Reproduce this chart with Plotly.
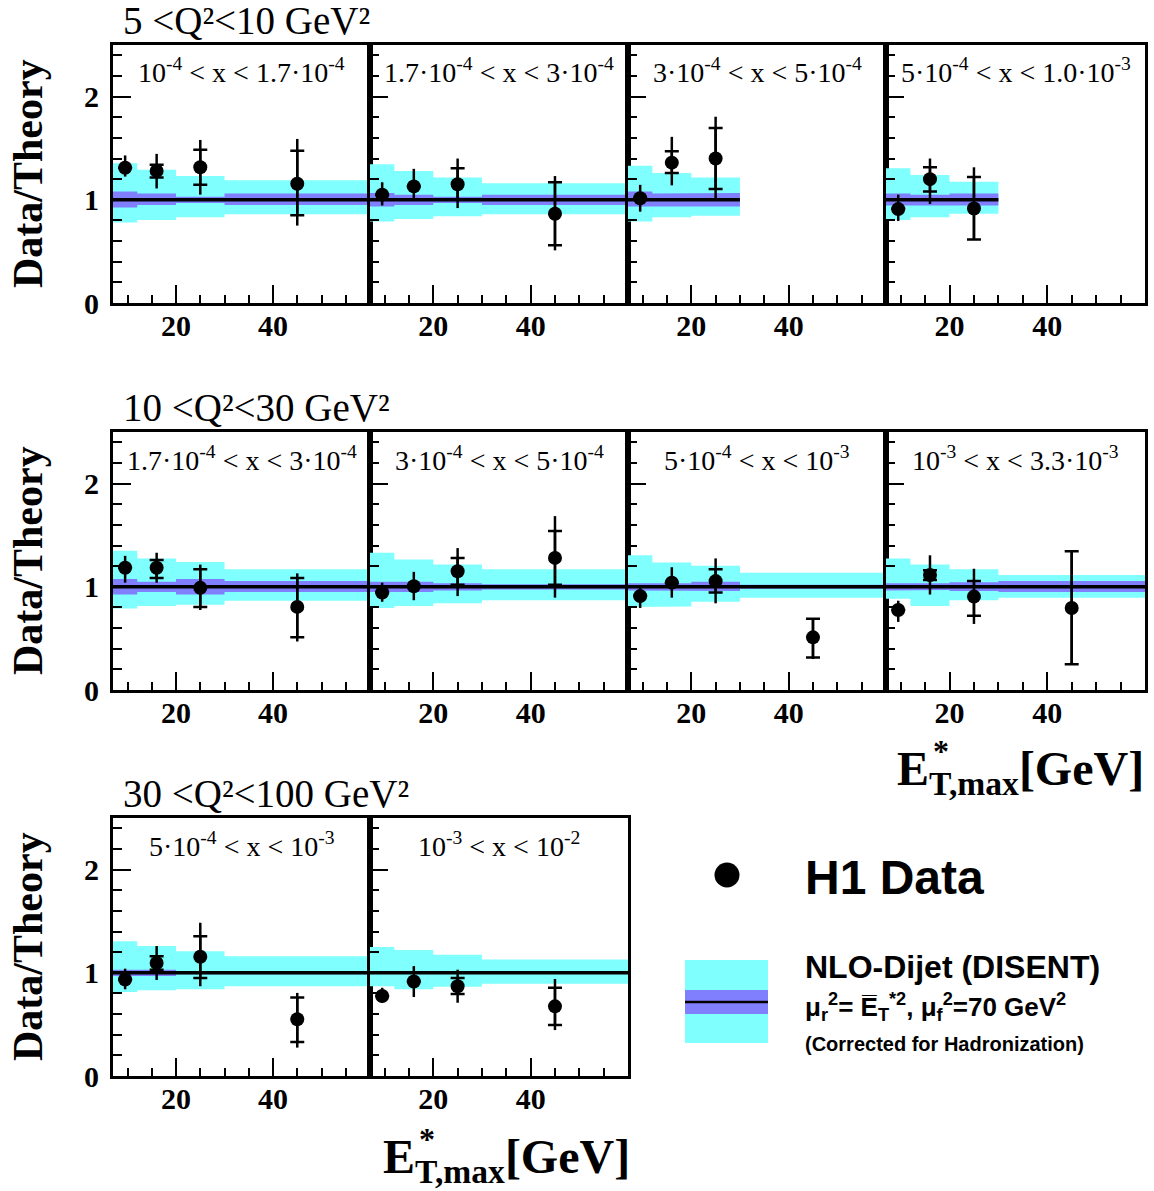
import plotly.graph_objects as go

# ---------------- DATA ----------------
bin_edges_4 = [7, 12, 20, 30, 60]
bin_edges_3 = [7, 12, 20, 30]
et_centers_4 = [9.5, 16, 25, 45]
et_centers_3 = [9.5, 16, 25]
theory_ratio = 1.0

q2_titles = ["5 &lt;Q²&lt;10 GeV²",
             "10 &lt;Q²&lt;30 GeV²",
             "30 &lt;Q²&lt;100 GeV²"]

x_bin_labels = [
    "10<sup>-4</sup> &lt; x &lt; 1.7·10<sup>-4</sup>",
    "1.7·10<sup>-4</sup> &lt; x &lt; 3·10<sup>-4</sup>",
    "3·10<sup>-4</sup> &lt; x &lt; 5·10<sup>-4</sup>",
    "5·10<sup>-4</sup> &lt; x &lt; 1.0·10<sup>-3</sup>",
    "1.7·10<sup>-4</sup> &lt; x &lt; 3·10<sup>-4</sup>",
    "3·10<sup>-4</sup> &lt; x &lt; 5·10<sup>-4</sup>",
    "5·10<sup>-4</sup> &lt; x &lt; 10<sup>-3</sup>",
    "10<sup>-3</sup> &lt; x &lt; 3.3·10<sup>-3</sup>",
    "5·10<sup>-4</sup> &lt; x &lt; 10<sup>-3</sup>",
    "10<sup>-3</sup> &lt; x &lt; 10<sup>-2</sup>",
]

# data / theory ratio per panel
ratio = [
    [1.31, 1.28, 1.315, 1.155],
    [1.05, 1.13, 1.15, 0.865],
    [1.015, 1.36, 1.40],
    [0.91, 1.20, 0.915],
    [1.185, 1.185, 0.99, 0.805],
    [0.945, 1.005, 1.15, 1.28],
    [0.91, 1.04, 1.055, 0.51],
    [0.775, 1.115, 0.905, 0.795],
    [0.935, 1.095, 1.155, 0.55],
    [0.775, 0.915, 0.87, 0.675],
]
# total error bar ends
tot_top = [
    [1.43, 1.445, 1.58, 1.59],
    [1.17, 1.30, 1.40, 1.23],
    [1.145, 1.61, 1.805],
    [1.05, 1.40, 1.315],
    [1.30, 1.33, 1.215, 1.13],
    [1.04, 1.145, 1.375, 1.685],
    [0.995, 1.19, 1.275, 0.695],
    [0.865, 1.305, 1.175, 1.345],
    [1.04, 1.26, 1.485, 0.805],
    [0.855, 1.065, 1.03, 0.94],
]
tot_bot = [
    [1.225, 1.11, 1.05, 0.75],
    [0.945, 1.015, 0.92, 0.51],
    [0.885, 1.14, 1.005],
    [0.795, 0.96, 0.61],
    [1.04, 1.04, 0.775, 0.47],
    [0.855, 0.87, 0.91, 0.895],
    [0.795, 0.895, 0.84, 0.30],
    [0.66, 0.925, 0.64, 0.25],
    [0.84, 0.93, 0.87, 0.275],
    [0.71, 0.765, 0.71, 0.445],
]
# statistical (inner) error ends
stat_top = [
    [1.31, 1.34, 1.485, 1.475],
    [1.05, 1.13, 1.305, 1.17],
    [1.015, 1.47, 1.695],
    [0.91, 1.315, 1.22],
    [1.185, 1.26, 1.17, 1.085],
    [0.945, 1.005, 1.28, 1.54],
    [0.91, 1.04, 1.17, 0.69],
    [0.775, 1.16, 1.055, 1.345],
    [0.935, 1.16, 1.355, 0.76],
    [0.775, 0.915, 0.95, 0.855],
]
stat_bot = [
    [1.31, 1.215, 1.145, 0.85],
    [1.05, 1.13, 1.0, 0.56],
    [1.015, 1.26, 1.105],
    [0.91, 1.08, 0.615],
    [1.185, 1.085, 0.805, 0.51],
    [0.945, 1.005, 1.02, 1.02],
    [0.91, 1.04, 0.945, 0.315],
    [0.775, 1.065, 0.72, 0.25],
    [0.935, 1.03, 0.95, 0.33],
    [0.775, 0.915, 0.795, 0.495],
]
# theory uncertainty band (total, cyan) per E_T bin
band_top = [
    [1.355, 1.29, 1.23, 1.19],
    [1.345, 1.28, 1.215, 1.16],
    [1.33, 1.26, 1.215],
    [1.305, 1.24, 1.175],
    [1.35, 1.275, 1.24, 1.17],
    [1.33, 1.265, 1.215, 1.17],
    [1.305, 1.235, 1.205, 1.135],
    [1.275, 1.215, 1.17, 1.115],
    [1.305, 1.26, 1.21, 1.16],
    [1.25, 1.22, 1.175, 1.13],
]
band_bot = [
    [0.78, 0.805, 0.83, 0.86],
    [0.79, 0.815, 0.84, 0.86],
    [0.79, 0.83, 0.845],
    [0.805, 0.83, 0.865],
    [0.79, 0.815, 0.825, 0.865],
    [0.795, 0.815, 0.84, 0.87],
    [0.805, 0.81, 0.855, 0.895],
    [0.885, 0.815, 0.87, 0.895],
    [0.815, 0.83, 0.84, 0.87],
    [0.87, 0.84, 0.865, 0.895],
]
# hadronisation uncertainty band (purple)
had_top = [
    [1.08, 1.06, 1.03, 1.06],
    [1.065, 1.05, 1.03, 1.05],
    [1.08, 1.06, 1.065],
    [1.06, 1.05, 1.06],
    [1.075, 1.05, 1.075, 1.055],
    [1.05, 1.05, 1.035, 1.025],
    [1.035, 1.035, 1.05, 1.02],
    [1.035, 1.035, 1.045, 1.055],
    [1.03, 1.03, 1.015, 1.015],
    [1.01, 1.01, 1.01, 1.01],
]
had_bot = [
    [0.925, 0.95, 0.97, 0.95],
    [0.935, 0.95, 0.97, 0.95],
    [0.935, 0.94, 0.935],
    [0.945, 0.945, 0.945],
    [0.925, 0.95, 0.925, 0.95],
    [0.95, 0.95, 0.965, 0.975],
    [0.965, 0.965, 0.96, 0.98],
    [0.965, 0.97, 0.96, 0.95],
    [0.97, 0.97, 0.985, 0.985],
    [0.99, 0.99, 0.99, 0.99],
]

x_ticks = [20, 40]
y_ticks = [0, 1, 2]
y_tick_text = ["0", "1", "2"]

# ---------------- LAYOUT ----------------
W, H = 1154, 1191
col_px = [(113, 370), (370, 628), (628, 886), (886, 1145)]
row_px = [(45, 303), (432, 690), (818, 1076)]
panel_pos = [(0, 0), (0, 1), (0, 2), (0, 3), (1, 0), (1, 1), (1, 2), (1, 3), (2, 0), (2, 1)]

CYAN = "#80FFFF"
PURPLE = "#8080FF"
SERIF = "Liberation Serif"
SANS = "Liberation Sans"


def px_x(p):
    return p / W


def px_y(p):
    return 1 - p / H


def step_polygon(edges, top, bot):
    xs, ys = [], []
    for i in range(len(top)):
        xs += [edges[i], edges[i + 1]]
        ys += [top[i], top[i]]
    for i in reversed(range(len(bot))):
        xs += [edges[i + 1], edges[i]]
        ys += [bot[i], bot[i]]
    xs.append(xs[0])
    ys.append(ys[0])
    return xs, ys


fig = go.Figure()
layout = {}
annotations = []

for k, (r, c) in enumerate(panel_pos):
    n = k + 1
    xa = "x" if n == 1 else f"x{n}"
    ya = "y" if n == 1 else f"y{n}"
    npts = len(ratio[k])
    edges = bin_edges_4 if npts == 4 else bin_edges_3
    centers = et_centers_4 if npts == 4 else et_centers_3

    bx, by = step_polygon(edges, band_top[k], band_bot[k])
    fig.add_trace(go.Scatter(x=bx, y=by, xaxis=xa, yaxis=ya, mode="lines",
                             fill="toself", fillcolor=CYAN, line=dict(width=0),
                             hoverinfo="skip", showlegend=False))
    hx, hy = step_polygon(edges, had_top[k], had_bot[k])
    fig.add_trace(go.Scatter(x=hx, y=hy, xaxis=xa, yaxis=ya, mode="lines",
                             fill="toself", fillcolor=PURPLE, line=dict(width=0),
                             hoverinfo="skip", showlegend=False))
    fig.add_trace(go.Scatter(x=[edges[0], edges[-1]], y=[theory_ratio, theory_ratio],
                             xaxis=xa, yaxis=ya, mode="lines",
                             line=dict(color="black", width=3.5),
                             hoverinfo="skip", showlegend=False))
    # total errors
    fig.add_trace(go.Scatter(
        x=centers, y=ratio[k], xaxis=xa, yaxis=ya, mode="markers",
        marker=dict(size=1, color="rgba(0,0,0,0)"),
        error_y=dict(type="data", symmetric=False,
                     array=[t - v for t, v in zip(tot_top[k], ratio[k])],
                     arrayminus=[v - b for b, v in zip(tot_bot[k], ratio[k])],
                     color="black", thickness=2.5, width=0),
        showlegend=False))
    # statistical errors + points
    fig.add_trace(go.Scatter(
        x=centers, y=ratio[k], xaxis=xa, yaxis=ya, mode="markers",
        marker=dict(size=14, color="black", symbol="circle"),
        error_y=dict(type="data", symmetric=False,
                     array=[t - v for t, v in zip(stat_top[k], ratio[k])],
                     arrayminus=[v - b for b, v in zip(stat_bot[k], ratio[k])],
                     color="black", thickness=2.5, width=7),
        showlegend=False))

    x0, x1 = col_px[c]
    y0, y1 = row_px[r]
    layout["xaxis" if n == 1 else f"xaxis{n}"] = dict(
        domain=[px_x(x0), px_x(x1)], anchor=ya, range=[7, 60],
        tickvals=x_ticks, ticktext=[str(v) for v in x_ticks],
        ticks="inside", ticklen=18, tickwidth=2, tickcolor="black",
        minor=dict(tick0=0, dtick=5, ticks="inside", ticklen=8, tickwidth=2,
                   tickcolor="black", showgrid=False),
        showline=True, mirror=True, linewidth=3, linecolor="black",
        showgrid=False, zeroline=False, ticklabelstandoff=-6, automargin=False,
        tickfont=dict(family=SERIF, size=30, color="black", weight="bold"),
    )
    layout["yaxis" if n == 1 else f"yaxis{n}"] = dict(
        domain=[px_y(y1), px_y(y0)], anchor=xa, range=[0, 2.5],
        tickvals=y_ticks, ticktext=y_tick_text, showticklabels=(c == 0),
        ticks="inside", ticklen=18, tickwidth=2, tickcolor="black",
        minor=dict(tick0=0, dtick=0.2, ticks="inside", ticklen=9, tickwidth=2,
                   tickcolor="black", showgrid=False),
        showline=True, mirror=True, linewidth=3, linecolor="black",
        showgrid=False, zeroline=False, ticklabelstandoff=5, automargin=False,
        tickfont=dict(family=SERIF, size=30, color="black", weight="bold"),
    )
    annotations.append(dict(
        text=x_bin_labels[k], xref="paper", yref="paper",
        x=px_x((x0 + x1) / 2), y=px_y(y0 + 26), xanchor="center", yanchor="middle",
        showarrow=False, font=dict(family=SERIF, size=28, color="black")))

for r, (y0, y1) in enumerate(row_px):
    annotations.append(dict(
        text=q2_titles[r], xref="paper", yref="paper", x=px_x(121), y=px_y(y0 - 25),
        xanchor="left", yanchor="middle", showarrow=False,
        font=dict(family=SERIF, size=39, color="black")))
    annotations.append(dict(
        text="Data/Theory", xref="paper", yref="paper", x=px_x(28), y=px_y((y0 + y1) / 2),
        xanchor="center", yanchor="middle", textangle=-90, showarrow=False,
        font=dict(family=SERIF, size=42, color="black", weight="bold")))

# x-axis titles
for (xl, yc) in [(895, 772), (381, 1160)]:
    annotations.append(dict(
        text="E<sub>T,max</sub>[GeV]", xref="paper", yref="paper",
        x=px_x(xl), y=px_y(yc), xanchor="left", yanchor="middle", showarrow=False,
        font=dict(family=SERIF, size=48, color="black", weight="bold")))
    annotations.append(dict(
        text="*", xref="paper", yref="paper",
        x=px_x(xl + 46), y=px_y(yc - 21), xanchor="center", yanchor="middle", showarrow=False,
        font=dict(family=SERIF, size=32, color="black", weight="bold")))

# legend texts
annotations += [
    dict(text="H1 Data", xref="paper", yref="paper", x=px_x(803), y=px_y(877),
         xanchor="left", yanchor="middle", showarrow=False,
         font=dict(family=SANS, size=48, color="black", weight="bold")),
    dict(text="NLO-Dijet (DISENT)", xref="paper", yref="paper", x=px_x(803), y=px_y(967),
         xanchor="left", yanchor="middle", showarrow=False,
         font=dict(family=SANS, size=32, color="black", weight="bold")),
    dict(text="μ<sub>r</sub><sup>2</sup>= E̅<sub>T</sub><sup>*2</sup>, μ<sub>f</sub><sup>2</sup>=70 GeV<sup>2</sup>",
         xref="paper", yref="paper", x=px_x(803), y=px_y(1007),
         xanchor="left", yanchor="middle", showarrow=False,
         font=dict(family=SANS, size=26, color="black", weight="bold")),
    dict(text="(Corrected for Hadronization)", xref="paper", yref="paper", x=px_x(803), y=px_y(1044),
         xanchor="left", yanchor="middle", showarrow=False,
         font=dict(family=SANS, size=20, color="black", weight="bold")),
]

shapes = [
    dict(type="circle", xref="paper", yref="paper", x0=px_x(714.5), x1=px_x(739.5),
         y0=px_y(887.5), y1=px_y(862.5), fillcolor="black", line=dict(width=0)),
    dict(type="rect", xref="paper", yref="paper", x0=px_x(685), x1=px_x(768),
         y0=px_y(1043), y1=px_y(960), fillcolor=CYAN, line=dict(width=0)),
    dict(type="rect", xref="paper", yref="paper", x0=px_x(685), x1=px_x(768),
         y0=px_y(1014), y1=px_y(990), fillcolor=PURPLE, line=dict(width=0)),
    dict(type="line", xref="paper", yref="paper", x0=px_x(685), x1=px_x(768),
         y0=px_y(1002), y1=px_y(1002), line=dict(color="black", width=2.5)),
]

fig.update_layout(
    width=W, height=H, autosize=False,
    margin=dict(l=0, r=0, t=0, b=0, pad=0, autoexpand=False),
    paper_bgcolor="white", plot_bgcolor="white", showlegend=False,
    annotations=annotations, shapes=shapes, **layout)

fig.write_html("out.html",
               config={"displayModeBar": False, "responsive": False},
               post_script="document.documentElement.style.margin='0px';"
                           "document.body.style.margin='0px';"
                           "document.body.style.padding='0px';"
                           "document.documentElement.style.overflow='hidden';"
                           "document.body.style.overflow='hidden';")
